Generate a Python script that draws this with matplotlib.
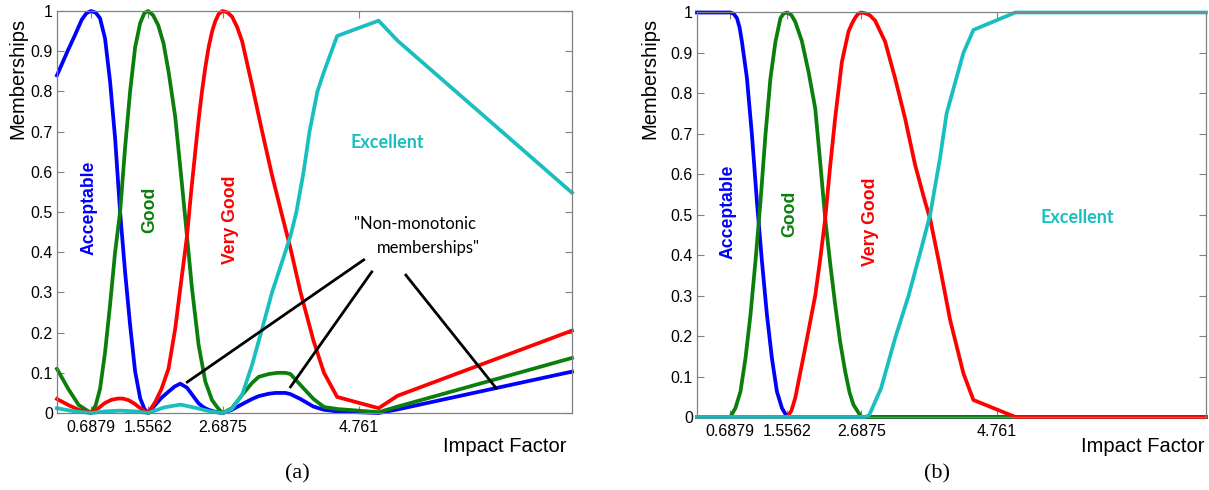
import matplotlib
matplotlib.use('Agg')
import matplotlib.pyplot as plt

# tick positions shared by both panels
xtick_vals = [0.6879, 1.5562, 2.6875, 4.761]
xtick_labels = ['0.6879', '1.5562', '2.6875', '4.761']
ytick_vals = [0, 0.1, 0.2, 0.3, 0.4, 0.5, 0.6, 0.7, 0.8, 0.9, 1.0]
ytick_labels = ['0', '0.1', '0.2', '0.3', '0.4', '0.5', '0.6', '0.7', '0.8', '0.9', '1']

# ---- panel (a): non-monotonic memberships ----
a_acc_x = [0.17, 0.342, 0.444, 0.546, 0.62, 0.6879, 0.76, 0.825, 0.901, 0.978, 1.054, 1.13, 1.206,
           1.282, 1.359, 1.435, 1.5, 1.5562, 1.663, 1.76, 1.866, 1.96, 2.045, 2.147, 2.197, 2.26,
           2.324, 2.4, 2.476, 2.58, 2.6875, 2.83, 2.985, 3.137, 3.238, 3.39, 3.49, 3.645, 3.72,
           3.87, 4.07, 4.23, 4.43, 5.06, 5.35, 8.0]
a_acc_y = [0.84, 0.904, 0.94, 0.978, 0.995, 1.0, 0.996, 0.982, 0.932, 0.824, 0.684, 0.50, 0.351,
           0.219, 0.103, 0.037, 0.01, 0.0, 0.02, 0.038, 0.053, 0.066, 0.073, 0.063, 0.052, 0.038,
           0.024, 0.014, 0.008, 0.003, 0.0, 0.008, 0.022, 0.035, 0.042, 0.048, 0.05, 0.05, 0.047,
           0.035, 0.016, 0.008, 0.004, 0.0, 0.009, 0.103]

a_good_x = [0.17, 0.342, 0.5, 0.6879, 0.76, 0.825, 0.901, 0.978, 1.054, 1.13, 1.206, 1.282, 1.359,
            1.435, 1.5, 1.5562, 1.63, 1.709, 1.79, 1.866, 1.968, 2.07, 2.147, 2.223, 2.324, 2.426,
            2.528, 2.628, 2.6875, 2.83, 2.985, 3.137, 3.238, 3.39, 3.52, 3.645, 3.72, 3.87, 4.07,
            4.23, 4.43, 5.06, 5.35, 8.0]
a_good_y = [0.11, 0.06, 0.02, 0.0, 0.02, 0.06, 0.15, 0.27, 0.40, 0.50, 0.66, 0.80, 0.91,
            0.97, 0.995, 1.0, 0.99, 0.965, 0.92, 0.85, 0.737, 0.57, 0.44, 0.31, 0.169, 0.078,
            0.032, 0.01, 0.0, 0.012, 0.045, 0.075, 0.09, 0.097, 0.1, 0.1, 0.097, 0.07, 0.035,
            0.015, 0.01, 0.002, 0.016, 0.137]

a_vg_x = [0.17, 0.342, 0.5, 0.6879, 0.8, 0.9, 1.0, 1.1, 1.17, 1.26, 1.36, 1.45, 1.5562, 1.663,
          1.76, 1.866, 1.968, 2.045, 2.147, 2.21, 2.273, 2.324, 2.375, 2.426, 2.476, 2.53, 2.578,
          2.63, 2.6875, 2.76, 2.832, 2.91, 2.985, 3.137, 3.29, 3.442, 3.595, 3.72, 3.874, 4.07,
          4.23, 4.43, 5.06, 5.35, 8.0]
a_vg_y = [0.035, 0.02, 0.008, 0.0, 0.012, 0.025, 0.033, 0.036, 0.036, 0.032, 0.022, 0.01, 0.0, 0.027,
          0.06, 0.11, 0.21, 0.31, 0.44, 0.55, 0.65, 0.73, 0.80, 0.86, 0.91, 0.95, 0.975,
          0.993, 1.0, 0.997, 0.986, 0.96, 0.925, 0.815, 0.70, 0.59, 0.49, 0.41, 0.30, 0.18,
          0.10, 0.04, 0.012, 0.043, 0.205]

a_exc_x = [0.17, 0.44, 0.6879, 0.9, 1.13, 1.36, 1.5562, 1.8, 2.05, 2.3, 2.5, 2.6875, 2.83, 2.985,
           3.137, 3.29, 3.44, 3.6, 3.72, 3.81, 3.92, 4.01, 4.13, 4.23, 4.43, 5.06, 5.35, 8.0]
a_exc_y = [0.012, 0.004, 0.0, 0.004, 0.006, 0.004, 0.0, 0.014, 0.021, 0.012, 0.004, 0.0, 0.01, 0.045,
           0.12, 0.21, 0.3, 0.38, 0.44, 0.5, 0.6, 0.7, 0.8, 0.849, 0.938, 0.976, 0.926, 0.548]

# ---- panel (b): monotonic memberships ----
b_acc_x = [0.18, 0.6879, 0.74, 0.79, 0.83, 0.866, 0.943, 1.019, 1.095, 1.172, 1.248, 1.324,
           1.40, 1.477, 1.5562, 7.95]
b_acc_y = [1.0, 1.0, 0.997, 0.986, 0.963, 0.928, 0.837, 0.697, 0.532, 0.384, 0.252, 0.145,
           0.063, 0.022, 0.0, 0.0]

b_good_x = [0.18, 0.6879, 0.767, 0.844, 0.92, 0.996, 1.072, 1.149, 1.225, 1.301, 1.378, 1.454,
            1.5, 1.5562, 1.62, 1.68, 1.78, 1.882, 1.985, 2.061, 2.137, 2.213, 2.29, 2.366,
            2.443, 2.51, 2.569, 2.6875, 7.95]
b_good_y = [0.0, 0.0, 0.022, 0.063, 0.145, 0.252, 0.384, 0.532, 0.697, 0.837, 0.928, 0.986,
            0.997, 1.0, 0.994, 0.977, 0.93, 0.854, 0.763, 0.63, 0.491, 0.38, 0.277, 0.185,
            0.112, 0.06, 0.03, 0.0, 0.0]

b_vg_x = [0.18, 1.5562, 1.62, 1.68, 1.832, 1.985, 2.061, 2.137, 2.213, 2.29, 2.392, 2.493,
          2.55, 2.595, 2.64, 2.6875, 2.75, 2.82, 2.899, 3.052, 3.205, 3.357, 3.51, 3.662,
          3.739, 3.89, 4.044, 4.247, 4.40, 5.04, 7.95]
b_vg_y = [0.0, 0.0, 0.015, 0.047, 0.171, 0.30, 0.39, 0.49, 0.62, 0.74, 0.878, 0.953,
          0.974, 0.987, 0.997, 1.0, 0.998, 0.993, 0.98, 0.928, 0.837, 0.738, 0.623, 0.532,
          0.49, 0.37, 0.24, 0.108, 0.042, 0.0, 0.0]

b_exc_x = [0.18, 2.6875, 2.75, 2.81, 2.99, 3.205, 3.41, 3.61, 3.739, 3.89, 3.99, 4.247, 4.40,
           5.04, 7.95]
b_exc_y = [0.0, 0.0, 0.0, 0.005, 0.071, 0.195, 0.30, 0.42, 0.5, 0.64, 0.75, 0.9, 0.957,
           1.0, 1.0]

BLUE, GREEN, RED, CYAN = '#0000ff', '#0b7f0b', '#ff0000', '#19bfbf'
SANS = 'Liberation Sans'


def setup_axes(ax, xlim):
    ax.set_xlim(*xlim)
    ax.set_ylim(0, 1)
    ax.set_xticks(xtick_vals)
    ax.set_xticklabels(xtick_labels, fontfamily=SANS, fontsize=11.5)
    ax.set_yticks(ytick_vals)
    ax.set_yticklabels(ytick_labels, fontfamily=SANS, fontsize=11.5)
    ax.tick_params(direction='in', top=True, right=True, length=5, width=0.8,
                   color='#808080', pad=3)
    ax.tick_params(axis='x', pad=5)
    for sp in ax.spines.values():
        sp.set_color('#808080')
        sp.set_linewidth(0.9)


def draw_series(ax, series):
    for xs, ys, col in series:
        ax.plot(xs, ys, color=col, lw=2.7, clip_on=False, solid_joinstyle='round')


fig = plt.figure(figsize=(12.09, 4.9), dpi=100)
ax1 = fig.add_axes([0.0471, 0.1571, 0.426, 0.8204])
ax2 = fig.add_axes([0.5765, 0.149, 0.421, 0.8255])

setup_axes(ax1, (0.17, 8.0))
setup_axes(ax2, (0.18, 7.95))

draw_series(ax1, [(a_acc_x, a_acc_y, BLUE), (a_good_x, a_good_y, GREEN),
                  (a_vg_x, a_vg_y, RED), (a_exc_x, a_exc_y, CYAN)])
draw_series(ax2, [(b_acc_x, b_acc_y, BLUE), (b_good_x, b_good_y, GREEN),
                  (b_vg_x, b_vg_y, RED), (b_exc_x, b_exc_y, CYAN)])

# category names
lab = dict(fontfamily=SANS, fontweight='bold', fontsize=12.7, ha='center', va='center')
ax1.text(0.657, 0.51, 'Acceptable', color=BLUE, rotation=90, **lab)
ax1.text(1.587, 0.505, 'Good', color=GREEN, rotation=90, **lab)
ax1.text(2.807, 0.48, 'Very Good', color=RED, rotation=90, **lab)
ax1.text(5.185, 0.674, 'Excellent', color=CYAN, ha='center', va='center',
         fontfamily='Lato', fontweight='bold', fontsize=13)

ax2.text(0.657, 0.507, 'Acceptable', color=BLUE, rotation=90, **lab)
ax2.text(1.603, 0.502, 'Good', color=GREEN, rotation=90, **lab)
ax2.text(2.824, 0.482, 'Very Good', color=RED, rotation=90, **lab)
ax2.text(5.98, 0.492, 'Excellent', color=CYAN, ha='center', va='center',
         fontfamily='Lato', fontweight='bold', fontsize=13)

# "non-monotonic" callout
ax1.text(5.612, 0.47, '"Non-monotonic', ha='center', va='center', fontfamily='Lato', fontsize=12)
ax1.text(5.81, 0.41, 'memberships"', ha='center', va='center', fontfamily='Lato', fontsize=12)
for (x0, y0), (x1, y1) in [((2.151, 0.077), (4.834, 0.381)),
                           ((3.721, 0.065), (4.956, 0.351)),
                           ((5.475, 0.343), (6.846, 0.062))]:
    ax1.plot([x0, x1], [y0, y1], color='black', lw=2)

# axis titles and panel letters
for xpx in (18, 650):
    fig.text(xpx / 1209, 1 - 78 / 490, 'Memberships', rotation=90, ha='center', va='center',
             fontfamily=SANS, fontsize=14.5)
fig.text(505 / 1209, 1 - 446 / 490, 'Impact Factor', ha='center', va='center',
         fontfamily=SANS, fontsize=14.5)
fig.text(1143 / 1209, 1 - 447 / 490, 'Impact Factor', ha='center', va='center',
         fontfamily=SANS, fontsize=14.5)
fig.text(297 / 1209, 1 - 474 / 490, '(a)', ha='center', va='center',
         fontfamily='Liberation Serif', fontsize=16)
fig.text(937 / 1209, 1 - 474 / 490, '(b)', ha='center', va='center',
         fontfamily='Liberation Serif', fontsize=16)

fig.savefig('out.png', dpi=100)
